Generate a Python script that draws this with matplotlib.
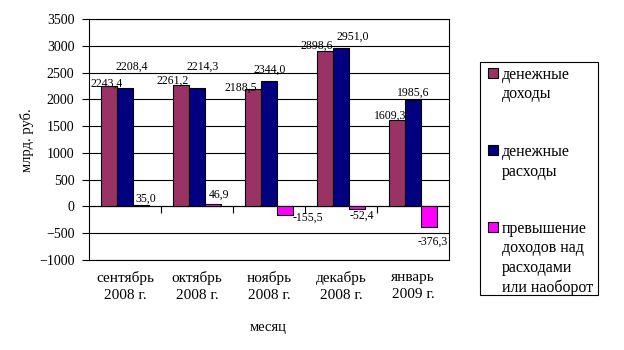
import numpy as np
import matplotlib.pyplot as plt
from matplotlib.patches import Rectangle

plt.rcParams['font.family'] = ['Liberation Serif', 'DejaVu Serif']

months = ["сентябрь\n2008 г.", "октябрь\n2008 г.", "ноябрь\n2008 г.",
          "декабрь\n2008 г.", "январь\n2009 г."]
income = [2243.4, 2261.2, 2188.5, 2898.6, 1609.3]
expense = [2208.4, 2214.3, 2344.0, 2951.0, 1985.6]
diff = [35.0, 46.9, -155.5, -52.4, -376.3]

# label nudges (pixels, right / up) from the bar end
nudge_income = [(-2.5, 2.5), (-8.5, 4.5), (-12, 1.5), (-8, 5), (-6.5, 4.5)]
nudge_expense = [(6.5, 21), (5.5, 21), (1, 11), (11.5, 12), (0.5, 7.5)]
nudge_diff = [(5, 6), (6, 9), (22.5, -3), (4.5, -6), (3.5, -15)]

series = [
    (income, "#993366", ["денежные", "доходы"], nudge_income),
    (expense, "#000080", ["денежные", "расходы"], nudge_expense),
    (diff, "#FF00FF", ["превышение", "доходов над", "расходами", "или наоборот"], nudge_diff),
]

fig = plt.figure(figsize=(6.24, 3.5), dpi=100)
ax = fig.add_axes([89 / 624, 1 - 260 / 350, 360 / 624, 241 / 350])

x = np.arange(len(months))
w = 0.222
px = 0.72  # points per pixel at 100 dpi
for k, (vals, col, lab, nudge) in enumerate(series):
    pos = x + (k - 1) * w
    ax.bar(pos, vals, width=w, color=col, edgecolor="black", linewidth=0.8, zorder=3)
    for xp, v, (dx, dy) in zip(pos, vals, nudge):
        txt = ("%.1f" % v).replace(".", ",")
        ax.annotate(txt, (xp, v), xytext=(dx * px, dy * px),
                    textcoords="offset points", ha="center", va="center",
                    fontsize=8.5, zorder=4)

ax.set_xlim(-0.5, 4.5)
ax.set_ylim(-1000, 3500)
ax.set_yticks(np.arange(-1000, 3501, 500))
ax.tick_params(axis="y", direction="out", length=5, pad=5.5, labelsize=10, width=0.8)
ax.grid(axis="y", color="black", linewidth=0.8, zorder=1)
for s in ax.spines.values():
    s.set_linewidth(0.8)

# month labels under the plot, without tick marks
ax.set_xticks(x)
ax.set_xticklabels(months, fontsize=11, linespacing=1.35)
ax.tick_params(axis="x", length=0, pad=8)

# category axis crossing at zero
zero = ax.secondary_xaxis(1000 / 4500)
zero.set_xticks(x[:-1] + 0.5)
zero.set_xticklabels([])
zero.tick_params(direction="out", length=5, width=0.8)
zero.spines["bottom"].set_linewidth(0.8)

fig.text(27 / 624, 1 - 140 / 350, "млрд. руб.", rotation=90, ha="center",
         va="center", fontsize=10.5)
fig.text(268 / 624, 1 - 327 / 350, "месяц", ha="center", va="center", fontsize=10.5)

# legend box
fig.add_artist(Rectangle((480 / 624, 1 - 295 / 350), 118 / 624, 233 / 350,
                         transform=fig.transFigure, facecolor="white",
                         edgecolor="black", linewidth=0.8))
baselines = [79, 156, 233]
for (vals, col, lab, nudge), base in zip(series, baselines):
    fig.add_artist(Rectangle((488 / 624, 1 - (base - 1) / 350), 10 / 624, 10 / 350,
                             transform=fig.transFigure, facecolor=col,
                             edgecolor="black", linewidth=0.8))
    for j, line in enumerate(lab):
        fig.text(502 / 624, 1 - (base + 19.5 * j) / 350, line, ha="left",
                 va="baseline", fontsize=11.5)

fig.savefig("out.png", dpi=100)
